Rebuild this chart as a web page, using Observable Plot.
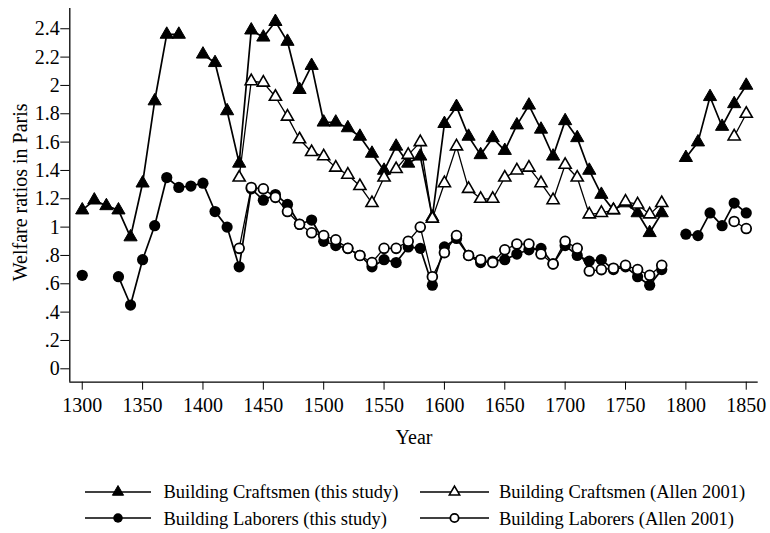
<!DOCTYPE html>
<html>
<head>
<meta charset="utf-8">
<script src="https://cdn.jsdelivr.net/npm/d3@7"></script>
<script src="https://cdn.jsdelivr.net/npm/@observablehq/plot@0.6"></script>
<style>
  html, body { margin: 0; padding: 0; background: #fff; }
  #wrap { position: relative; width: 770px; height: 533px; font-family: "Liberation Serif", "Times New Roman", serif; color: #000; }
  .leg { position: absolute; display: flex; align-items: center; font-size: 18.5px; white-space: nowrap; }
  .leg svg { display: block; }
</style>
</head>
<body>
<div id="wrap"></div>
<script>
const years = [1300,1310,1320,1330,1340,1350,1360,1370,1380,1390,1400,1410,1420,1430,1440,1450,1460,1470,1480,1490,
  1500,1510,1520,1530,1540,1550,1560,1570,1580,1590,1600,1610,1620,1630,1640,1650,1660,1670,1680,1690,
  1700,1710,1720,1730,1740,1750,1760,1770,1780,1790,1800,1810,1820,1830,1840,1850];

const craftThis = [1.12,1.19,1.15,1.12,0.93,1.31,1.89,2.36,2.36,null,2.22,2.16,1.82,1.45,2.39,2.34,2.45,2.31,1.97,2.14,
  1.74,1.74,1.70,1.64,1.52,1.40,1.57,1.45,1.50,1.07,1.73,1.85,1.64,1.51,1.63,1.54,1.72,1.86,1.69,1.50,
  1.75,1.63,1.40,1.23,1.12,1.17,1.10,0.96,1.10,null,1.49,1.60,1.92,1.71,1.87,2.00];

const craftAllen = [null,null,null,null,null,null,null,null,null,null,null,null,null,1.35,2.03,2.02,1.92,1.78,1.62,1.53,
  1.50,1.42,1.37,1.29,1.17,1.35,1.41,1.51,1.60,1.06,1.31,1.57,1.27,1.20,1.20,1.35,1.40,1.42,1.31,1.19,
  1.44,1.35,1.09,1.10,1.12,1.18,1.16,1.09,1.17,null,null,null,null,null,1.64,1.80];

const labThis = [0.66,null,null,0.65,0.45,0.77,1.01,1.35,1.28,1.29,1.31,1.11,1.00,0.72,1.27,1.19,1.23,1.16,1.02,1.05,
  0.90,0.87,0.85,0.80,0.72,0.77,0.75,0.86,0.85,0.59,0.86,0.92,0.80,0.75,0.76,0.77,0.81,0.84,0.85,0.74,
  0.87,0.80,0.76,0.77,0.70,0.72,0.65,0.59,0.70,null,0.95,0.94,1.10,1.01,1.17,1.10];

const labAllen = [null,null,null,null,null,null,null,null,null,null,null,null,null,0.85,1.28,1.27,1.21,1.11,1.02,0.96,
  0.94,0.91,0.85,0.80,0.75,0.85,0.85,0.90,1.00,0.65,0.82,0.94,0.80,0.77,0.75,0.84,0.88,0.88,0.81,0.74,
  0.90,0.85,0.69,0.70,0.71,0.73,0.70,0.66,0.73,null,null,null,null,null,1.04,0.99];

const seriesNames = ["Building Craftsmen (this study)", "Building Craftsmen (Allen 2001)",
                     "Building Laborers (this study)", "Building Laborers (Allen 2001)"];
const xTicks = [1300,1350,1400,1450,1500,1550,1600,1650,1700,1750,1800,1850];
const yTicks = [0,0.2,0.4,0.6,0.8,1,1.2,1.4,1.6,1.8,2,2.2,2.4];
const yTickLabels = ["0",".2",".4",".6",".8","1","1.2","1.4","1.6","1.8","2","2.2","2.4"];
const xTitle = "Year";
const yTitle = "Welfare ratios in Paris";

const xDomain = [1289.7, 1859.9];
const yDomain = [-0.0946, 2.543];

function rows(vals) {
  return years.map((year, i) => ({year, v: vals[i] == null ? NaN : vals[i]}));
}
function pts(vals) {
  return rows(vals).filter(d => !isNaN(d.v));
}

const styles = [
  {symbol: "triangle", r: 4.9, fill: "black", stroke: "black", strokeWidth: 1, lw: 1.7},
  {symbol: "triangle", r: 4.5, fill: "white", stroke: "black", strokeWidth: 1.6, lw: 1.3},
  {symbol: "circle", r: 5.6, fill: "black", stroke: "none", strokeWidth: 0, lw: 1.7},
  {symbol: "circle", r: 4.9, fill: "white", stroke: "black", strokeWidth: 1.8, lw: 1.3}
];
const allSeries = [craftThis, craftAllen, labThis, labAllen];

const marks = [];
allSeries.forEach((vals, k) => {
  const s = styles[k];
  marks.push(Plot.line(rows(vals), {x: "year", y: "v", stroke: "black", strokeWidth: s.lw}));
  marks.push(Plot.dot(pts(vals), {x: "year", y: "v", symbol: s.symbol, r: s.r, fill: s.fill, stroke: s.stroke, strokeWidth: s.strokeWidth}));
});

const chart = Plot.plot({
  width: 770,
  height: 460,
  marginLeft: 69.3,
  marginRight: 12.3,
  marginTop: 8,
  marginBottom: 78.3,
  style: {background: "white", color: "black", fontFamily: "'Liberation Serif', 'Times New Roman', serif", fontSize: "20px"},
  x: {domain: xDomain},
  y: {domain: yDomain},
  marks: [
    Plot.ruleY([yDomain[0]], {stroke: "black", strokeWidth: 1.3}),
    Plot.ruleX([xDomain[0]], {stroke: "black", strokeWidth: 1.3}),
    Plot.axisX({ticks: xTicks, tickSize: 8, tickPadding: 8, label: null, fontSize: 20, tickFormat: d => String(d), stroke: "black"}),
    Plot.axisY({ticks: yTicks, tickSize: 9, tickPadding: 1, label: null, fontSize: 20, tickFormat: d => yTickLabels[yTicks.indexOf(d)], stroke: "black"}),
    Plot.text([xTitle], {frameAnchor: "bottom", dy: 62, fontSize: 20, fill: "black"}),
    Plot.text([yTitle], {frameAnchor: "left", textAnchor: "middle", rotate: -90, dx: -49, dy: -3, fontSize: 20, fill: "black"}),
    ...marks
  ]
});

const wrap = document.getElementById("wrap");
wrap.appendChild(chart);

// Legend
const legPos = [
  {left: 84.5, top: 491.7, lineW: 66, textGap: 13},
  {left: 420, top: 491.7, lineW: 69, textGap: 10},
  {left: 84.5, top: 518.3, lineW: 66, textGap: 13},
  {left: 420, top: 518.3, lineW: 69, textGap: 10}
];
seriesNames.forEach((name, k) => {
  const p = legPos[k];
  const s = styles[k];
  const div = document.createElement("div");
  div.className = "leg";
  div.style.left = p.left + "px";
  div.style.top = (p.top - 12) + "px";
  div.style.height = "24px";
  const w = p.lineW;
  const sym = d3.symbol(s.symbol === "triangle" ? d3.symbolTriangle : d3.symbolCircle, Math.PI * (s.r * 0.85) ** 2)();
  div.innerHTML = `<svg width="${w}" height="24" viewBox="0 0 ${w} 24">
      <line x1="0" x2="${w}" y1="12" y2="12" stroke="black" stroke-width="1.5"/>
      <path d="${sym}" transform="translate(${w/2},12)" fill="${s.fill}" stroke="${s.stroke === 'none' ? 'none' : 'black'}" stroke-width="${s.strokeWidth}"/>
    </svg><span style="margin-left:${p.textGap}px;position:relative;top:1px">${name}</span>`;
  wrap.appendChild(div);
});
</script>
</body>
</html>
